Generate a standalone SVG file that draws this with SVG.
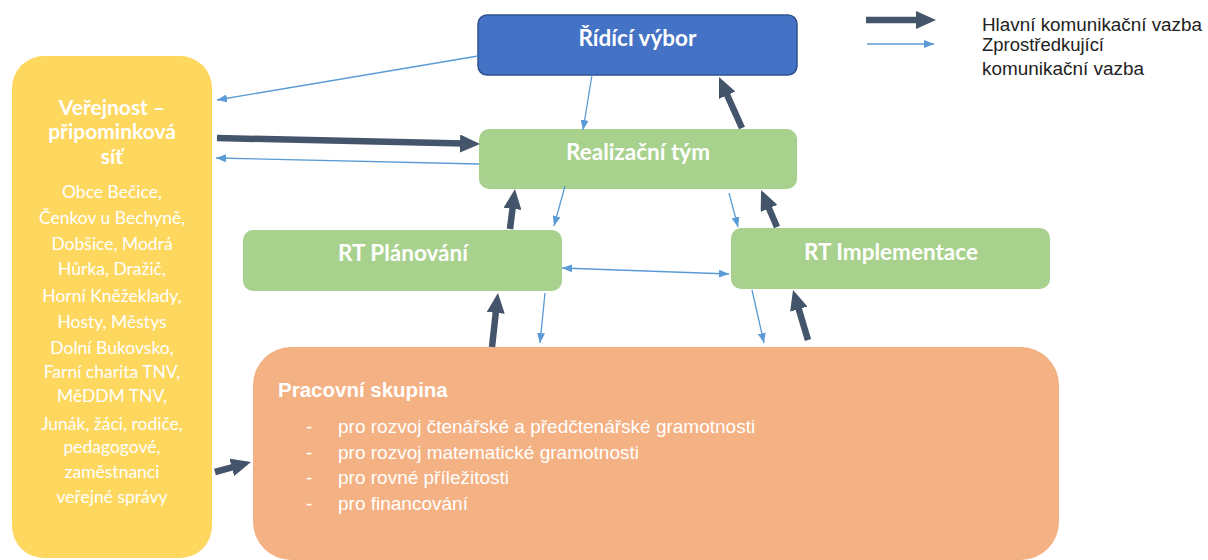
<svg xmlns="http://www.w3.org/2000/svg" width="1208" height="560" viewBox="0 0 1208 560">
<style>
.title{font-family:Lato,"Open Sans","DejaVu Sans",sans-serif;font-weight:bold;fill:#fff;text-anchor:middle}
.body{font-family:Lato,"Open Sans","DejaVu Sans",sans-serif;fill:#fff;text-anchor:middle;font-size:17.5px}
.arial{font-family:"Liberation Sans",Arial,sans-serif}
.thick{stroke:#44546A;stroke-width:6.5;fill:none;marker-end:url(#thickHead)}
.thin{stroke:#5B9BD5;stroke-width:1.3;fill:none;marker-end:url(#thinHead)}
</style>
<defs>
<marker id="thickHead" markerUnits="userSpaceOnUse" markerWidth="20" markerHeight="18" refX="4" refY="9" orient="auto">
<path d="M0,0 L20,9 L0,18 z" fill="#44546A"/>
</marker>
<marker id="thinHead" markerUnits="userSpaceOnUse" markerWidth="10" markerHeight="8" refX="10" refY="4" orient="auto-start-reverse">
<path d="M0,0 L10,4 L0,8 z" fill="#5B9BD5"/>
</marker>
</defs>
<rect width="1208" height="560" fill="#fff"/>

<g id="verejnost">
<rect x="12" y="56" width="200" height="502" rx="32" fill="#FED75F"/>
<text class="title" font-size="21" x="112" y="115">Veřejnost –</text>
<text class="title" font-size="21" x="112" y="139">připominková</text>
<text class="title" font-size="21" x="112" y="164">síť</text>
<text class="body" x="112" y="198">Obce Bečice,</text>
<text class="body" x="112" y="224">Čenkov u Bechyně,</text>
<text class="body" x="112" y="250">Dobšice, Modrá</text>
<text class="body" x="112" y="275">Hůrka, Dražič,</text>
<text class="body" x="112" y="302">Horní Kněžeklady,</text>
<text class="body" x="112" y="328">Hosty, Městys</text>
<text class="body" x="112" y="354">Dolní Bukovsko,</text>
<text class="body" x="112" y="378">Farní charita TNV,</text>
<text class="body" x="112" y="402">MěDDM TNV,</text>
<text class="body" x="112" y="430">Junák, žáci, rodiče,</text>
<text class="body" x="112" y="453">pedagogové,</text>
<text class="body" x="112" y="478">zaměstnanci</text>
<text class="body" x="112" y="503">veřejné správy</text>
</g>

<g id="ridici-vybor">
<rect x="478" y="15" width="319" height="60" rx="9" fill="#4472C4" stroke="#2F528F" stroke-width="1.5"/>
<text class="title" font-size="22.5" x="637.5" y="46">Řídící výbor</text>
</g>

<g id="realizacni-tym">
<rect x="479" y="129" width="318" height="60" rx="10" fill="#A9D18E"/>
<text class="title" font-size="22.5" x="638" y="160">Realizační tým</text>
</g>

<g id="rt-planovani">
<rect x="243" y="230" width="319" height="61" rx="10" fill="#A9D18E"/>
<text class="title" font-size="22.5" x="403" y="261">RT Plánování</text>
</g>

<g id="rt-implementace">
<rect x="731" y="228" width="319" height="61" rx="10" fill="#A9D18E"/>
<text class="title" font-size="22.5" x="891" y="260">RT Implementace</text>
</g>

<g id="pracovni-skupina">
<rect x="253" y="347" width="806" height="213" rx="38" fill="#F4B183"/>
<text class="arial" font-size="20.5" font-weight="bold" fill="#fff" x="278" y="397">Pracovní skupina</text>
<g class="arial" font-size="19" fill="#fff">
<text x="306" y="433">-</text>
<text x="338" y="433">pro rozvoj čtenářské a předčtenářské gramotnosti</text>
<text x="306" y="459">-</text>
<text x="338" y="459">pro rozvoj matematické gramotnosti</text>
<text x="306" y="484">-</text>
<text x="338" y="484">pro rovné příležitosti</text>
<text x="306" y="510">-</text>
<text x="338" y="510">pro financování</text>
</g>
</g>

<g id="connectors">
<line class="thin" x1="478" y1="56" x2="217" y2="100"/>
<line class="thick" x1="217" y1="138" x2="464" y2="143.6"/>
<line class="thin" x1="479" y1="164" x2="216" y2="158"/>
<line class="thin" x1="592" y1="75" x2="583" y2="130"/>
<line class="thick" x1="742" y1="128" x2="725.6" y2="91.6"/>
<line class="thin" x1="565" y1="186" x2="554" y2="226"/>
<line class="thick" x1="510" y1="229" x2="513" y2="204.9"/>
<line class="thin" x1="729" y1="193" x2="738" y2="227"/>
<line class="thick" x1="777" y1="227" x2="767.4" y2="204.7"/>
<line class="thin" x1="562" y1="268" x2="729" y2="274" marker-start="url(#thinHead)"/>
<line class="thick" x1="492" y1="347" x2="496.2" y2="308.9"/>
<line class="thin" x1="545" y1="293" x2="540" y2="343"/>
<line class="thin" x1="752" y1="290" x2="764" y2="343"/>
<line class="thick" x1="808" y1="340" x2="797.6" y2="305.3"/>
<line class="thick" x1="215" y1="472" x2="235.6" y2="466.3"/>
</g>

<g id="legend">
<line class="thick" x1="866" y1="20" x2="920" y2="20"/>
<line class="thin" x1="867" y1="44" x2="934" y2="44"/>
<g class="arial" font-size="17.5" fill="#222">
<text x="982" y="31" textLength="220" lengthAdjust="spacingAndGlyphs">Hlavní komunikační vazba</text>
<text x="982" y="51" textLength="122" lengthAdjust="spacingAndGlyphs">Zprostředkující</text>
<text x="982" y="75" textLength="162" lengthAdjust="spacingAndGlyphs">komunikační vazba</text>
</g>
</g>
</svg>
